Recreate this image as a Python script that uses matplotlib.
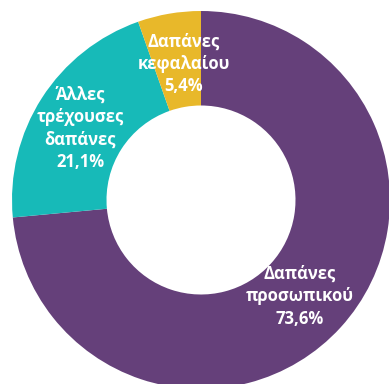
import matplotlib.pyplot as plt

categories = ["Δαπάνες\nπροσωπικού", "Άλλες\nτρέχουσες\nδαπάνες", "Δαπάνες\nκεφαλαίου"]
shares = [73.6, 21.1, 5.4]
share_labels = ["73,6%", "21,1%", "5,4%"]
colors = ["#65407a", "#17bab8", "#e8b82a"]

# label block centres, in pie units (radius = 1)
label_pos = [(0.52, -0.51), (-0.64, 0.38), (-0.09, 0.72)]

plt.rcParams['font.family'] = ['Open Sans', 'DejaVu Sans']

fig = plt.figure(figsize=(3.89, 3.84), dpi=100)
ax = fig.add_axes([0, 0, 1, 1])

ax.pie(shares, colors=colors, startangle=90, counterclock=False,
       radius=1.0, wedgeprops=dict(width=0.5, linewidth=0))

for cat, lab, (x, y) in zip(categories, share_labels, label_pos):
    ax.text(x, y, cat + "\n" + lab, ha='center', va='center', multialignment='center',
            color='white', fontsize=12, fontweight='bold', linespacing=1.32)

r_px = 189.0
ax.set_xlim(-201 / r_px, 188 / r_px)
ax.set_ylim(-184 / r_px, 200 / r_px)
ax.set_aspect('auto')
ax.axis('off')

fig.savefig("out.png", dpi=100)
